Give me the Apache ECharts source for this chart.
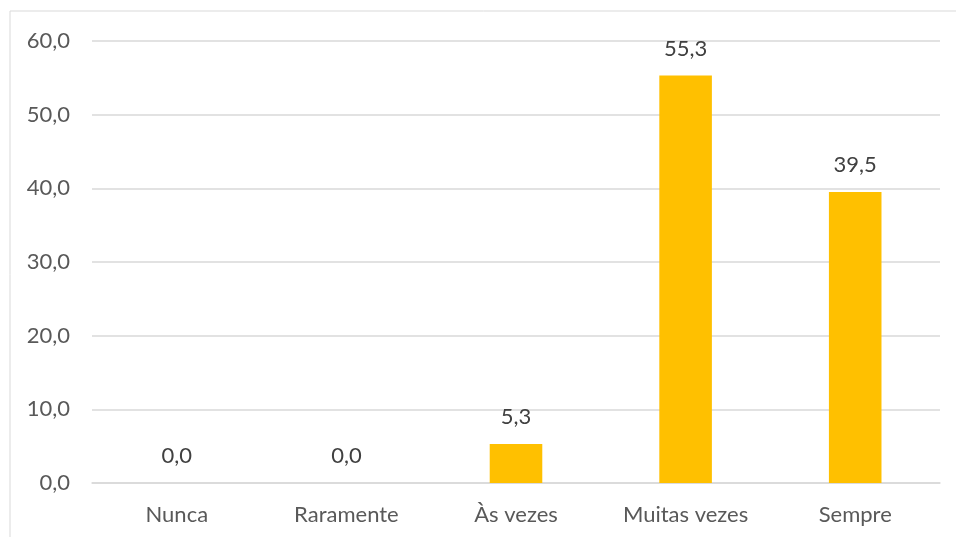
<!DOCTYPE html>
<html>
<head>
<meta charset="utf-8">
<script src="https://cdn.jsdelivr.net/npm/echarts@6/dist/echarts.min.js"></script>
<style>
  html, body { margin: 0; padding: 0; background: #fff; }
  #chart { width: 956px; height: 537px; }
</style>
</head>
<body>
<div id="chart"></div>
<script>
const categories = ["Nunca", "Raramente", "Às vezes", "Muitas vezes", "Sempre"];
const values = [0.0, 0.0, 5.3, 55.3, 39.5];

const fmt = v => v.toFixed(1).replace(".", ",");

const chart = echarts.init(document.getElementById("chart"));
chart.setOption({
    animation: false,
    backgroundColor: "#fff",
    textStyle: { fontFamily: "Lato" },
    graphic: [{
        type: "rect",
        shape: { x: 10, y: 11, width: 960, height: 540 },
        style: { fill: "none", stroke: "#d9d9d9", lineWidth: 1 },
        z: -1
    }],
    grid: { left: 92, right: 16, top: 41, bottom: 54 },
    xAxis: {
        type: "category",
        data: categories,
        axisLine: { lineStyle: { color: "#d9d9d9", width: 1.5 } },
        axisTick: { show: false },
        axisLabel: { color: "#595959", fontSize: 22, margin: 21 }
    },
    yAxis: {
        type: "value",
        min: 0,
        max: 60,
        interval: 10,
        axisLine: { show: false },
        axisTick: { show: false },
        axisLabel: { color: "#595959", fontSize: 22, margin: 22, formatter: v => fmt(v) },
        splitLine: { lineStyle: { color: "#d9d9d9", width: 1.5 } }
    },
    series: [{
        type: "bar",
        data: values,
        barWidth: "31%",
        itemStyle: { color: "#FFC000" },
        label: {
            show: true,
            position: "top",
            distance: 16,
            color: "#404040",
            fontSize: 22,
            formatter: p => fmt(p.value)
        }
    }]
});
</script>
</body>
</html>
